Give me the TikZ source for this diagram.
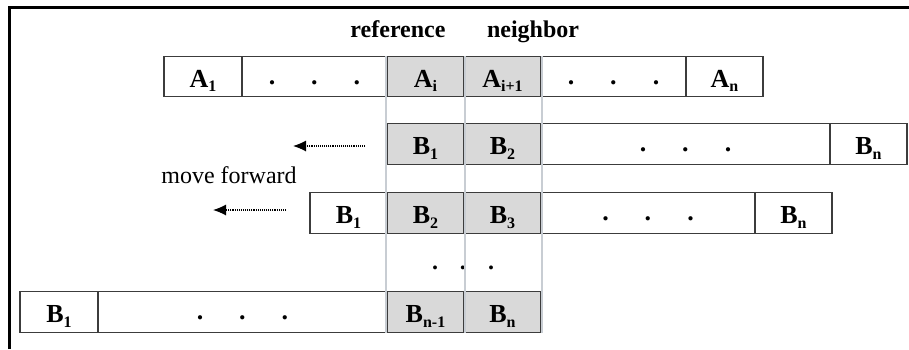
\documentclass[tikz,border=0pt]{standalone}
\usepackage{fontspec}
\setmainfont{Liberation Serif}
\usetikzlibrary{arrows.meta}
\definecolor{cellgray}{HTML}{D9D9D9}
\definecolor{cellline}{HTML}{3C3C3C}
\definecolor{guidegray}{HTML}{C8CDD3}
% lowered, smaller index after a letter
\newcommand{\subtxt}[1]{\raisebox{-4.5pt}{\fontsize{16}{16}\selectfont #1}}
% three spaced dots filling an elided stretch of a row
\newcommand{\elided}{\raisebox{3pt}{.\hspace{36pt}.\hspace{36pt}.}}
\begin{document}
\begin{tikzpicture}[x=1pt,y=-1pt,
  cell/.style={draw=cellline, line width=1.2pt, inner sep=0pt,
    minimum height=40.5pt, text height=25pt, text depth=4pt,
    font=\fontsize{26}{30}\selectfont\bfseries},
  shadecell/.style={cell, fill=cellgray},
  label/.style={font=\fontsize{24}{28}\selectfont\bfseries, anchor=base},
  guide/.style={draw=guidegray, line width=2pt},
  moveline/.style={densely dotted, line width=1.1pt, -{Latex[length=13pt,width=11pt]}}]
\useasboundingbox (0,0) rectangle (909,349);

% frame
\draw[line width=2.2pt] (9.5,349) -- (9.5,7.5) -- (909,7.5);

% column headings
\node[label] (ref) at (398,37) {reference};
\node[label] (nbr) at (533,37) {neighbor};

% sequence A
\node[cell, minimum width=78pt] (A1) at (203,76.5) {A\subtxt{1}};
\node[cell, minimum width=145pt] (Adl) at (314.5,76.5) {\elided};
\node[shadecell, minimum width=77pt] (Ai) at (425.5,76.5) {A\subtxt{i}};
\node[shadecell, minimum width=77pt] (Ai1) at (502.5,76.5) {A\subtxt{i+1}};
\node[cell, minimum width=145pt] (Adr) at (613.5,76.5) {\elided};
\node[cell, minimum width=77pt] (An) at (724.5,76.5) {A\subtxt{n}};

% sequence B, first alignment
\node[shadecell, minimum width=77pt] (B1) at (425.5,144) {B\subtxt{1}};
\node[shadecell, minimum width=77pt] (B2) at (502.5,144) {B\subtxt{2}};
\node[cell, minimum width=289pt] (Bd) at (685.5,144) {\elided};
\node[cell, minimum width=77pt] (Bn) at (868.5,144) {B\subtxt{n}};

% sequence B, shifted by one
\node[cell, minimum width=77pt] (C1) at (348.5,213) {B\subtxt{1}};
\node[shadecell, minimum width=77pt] (C2) at (425.5,213) {B\subtxt{2}};
\node[shadecell, minimum width=77pt] (C3) at (502.5,213) {B\subtxt{3}};
\node[cell, minimum width=214pt] (Cd) at (648,213) {\elided};
\node[cell, minimum width=77pt] (Cn) at (793.5,213) {B\subtxt{n}};

% further shifts
\node[font=\fontsize{24}{28}\selectfont\bfseries] (vd) at (463,268) {.\hspace{22pt}.\hspace{22pt}.};

% sequence B, last alignment
\node[cell, minimum width=78pt] (D1) at (59,312) {B\subtxt{1}};
\node[cell, minimum width=289pt] (Dd) at (242.5,312) {\elided};
\node[shadecell, minimum width=77pt] (Dn1) at (425.5,312) {B\subtxt{n-1}};
\node[shadecell, minimum width=77pt] (Dn) at (502.5,312) {B\subtxt{n}};

% column guides
\draw[guide] (Ai.north west) -- (Dn1.south west);
\draw[guide] (Ai.north east) -- (Dn1.south east);
\draw[guide] (Ai1.north east) -- (Dn.south east);

% shift arrows
\node[font=\fontsize{24}{28}\selectfont, anchor=base] (mv) at (229,183) {move forward};
\coordinate (m1s) at (365,146);
\coordinate (m1e) at (293,146);
\coordinate (m2s) at (286,210);
\coordinate (m2e) at (213,210);
\draw[moveline] (m1s) -- (m1e);
\draw[moveline] (m2s) -- (m2e);
\end{tikzpicture}
\end{document}
